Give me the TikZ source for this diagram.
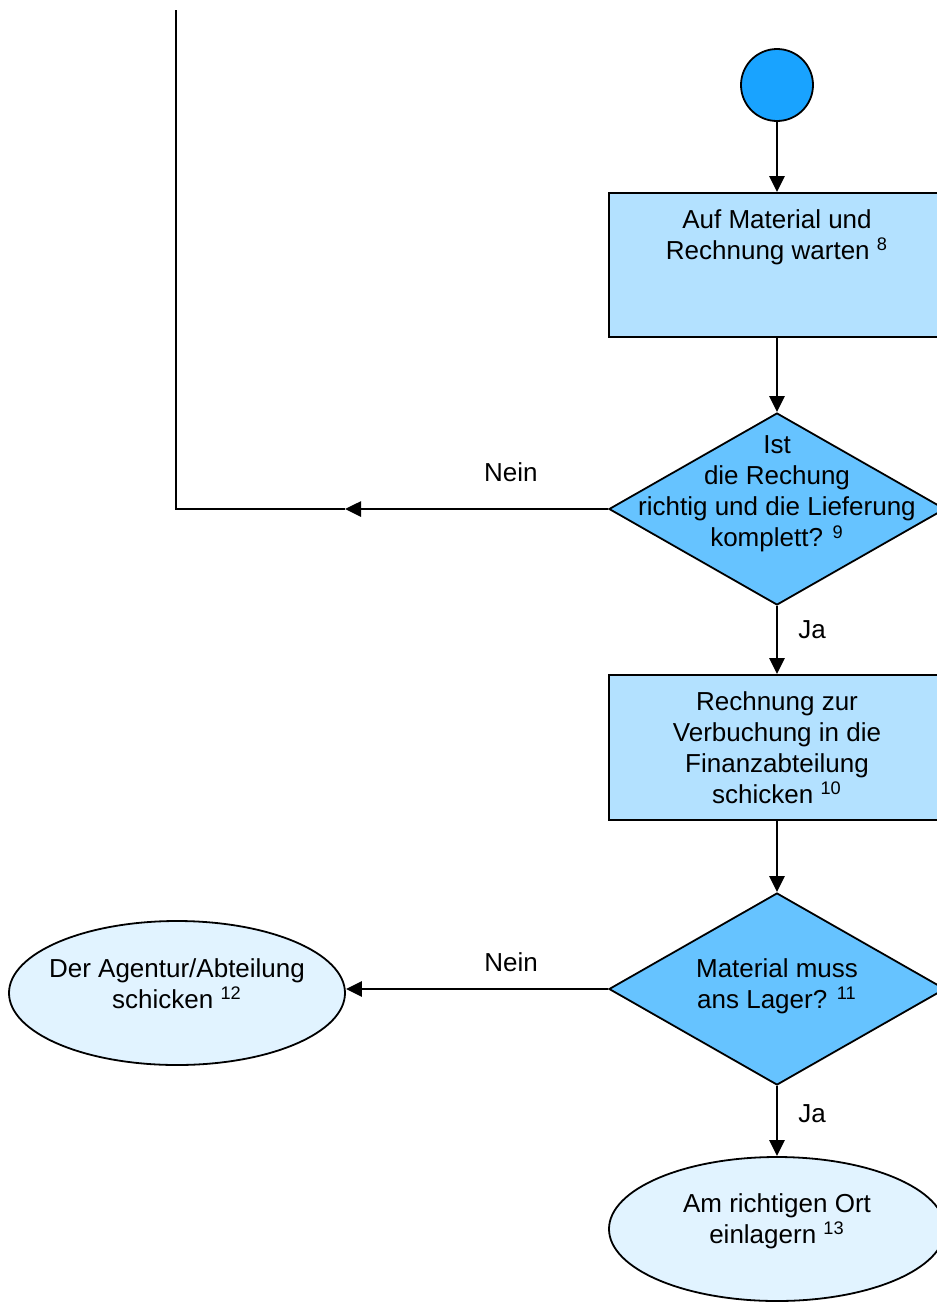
\documentclass[tikz,border=0pt]{standalone}
\usepackage{fontspec}
\setmainfont{Liberation Sans}
\usepackage{xcolor}
\usetikzlibrary{arrows.meta}
\usetikzlibrary{shapes.geometric}
\definecolor{startblue}{HTML}{19A3FF}
\definecolor{boxblue}{HTML}{B3E1FF}
\definecolor{decblue}{HTML}{66C3FF}
\definecolor{endblue}{HTML}{E1F3FF}

\begin{document}
\begin{tikzpicture}[x=0.5pt, y=-0.5pt,
    txt/.style={align=center, inner sep=0pt, font=\fontsize{13}{15.5}\selectfont},
    startdot/.style={circle, draw, line width=0.9pt, fill=startblue, minimum size=36pt, inner sep=0pt},
    procbox/.style={rectangle, draw, line width=0.9pt, fill=boxblue, minimum width=168pt, minimum height=72pt, inner sep=0pt},
    decbox/.style={diamond, draw, line width=0.9pt, fill=decblue, minimum width=168pt, minimum height=96pt, inner sep=0pt},
    endbox/.style={ellipse, draw, line width=0.9pt, fill=endblue, minimum width=168pt, minimum height=72pt, inner sep=0pt},
    flow/.style={line width=1.3pt, -{Triangle[length=8pt, width=7.5pt]}}]
        \useasboundingbox (0,0) rectangle (937,1302);
        \clip (0,0) rectangle (937,1302);
        % shapes
        \node [startdot] (start) at (777,85) {};
        \node [procbox, label={[txt, yshift=14pt]center:Auf Material und\\Rechnung warten \textsuperscript{8}}] (wait) at (777,265) {};
        \node [decbox, label={[txt, yshift=7.5pt]center:Ist\\die Rechung\\richtig und die Lieferung\\komplett? \textsuperscript{9}}] (check) at (777,509) {};
        \node [procbox, minimum height=72.5pt, label={[txt]center:Rechnung zur\\Verbuchung in die\\Finanzabteilung\\schicken \textsuperscript{10}}] (send) at (777,747.5) {};
        \node [decbox, label={[txt, yshift=1.5pt]center:Material muss\\ans Lager? \textsuperscript{11}}] (store) at (777,989) {};
        \node [endbox, label={[txt, yshift=4.75pt]center:Der Agentur/Abteilung\\schicken \textsuperscript{12}}] (agency) at (177,993) {};
        \node [endbox, label={[txt, yshift=4pt]center:Am richtigen Ort\\einlagern \textsuperscript{13}}] (shelf) at (777,1229) {};
        % back loop
        \coordinate (back) at (345,509);
        \coordinate (corner) at (176,509);
        \coordinate (up) at (176,10);
        % connectors
        \draw [flow] (start) -- (wait);
        \draw [flow] (wait) -- (check);
        \draw [flow] (check.west) -- (back) node [txt, pos=.37, above=13pt] {Nein};
        \draw [line width=1.3pt] (back) -- (corner) -- (up);
        \draw [flow] (check) -- (send) node [txt, pos=.35, right=10pt] {Ja};
        \draw [flow] (send) -- (store);
        \draw [flow] (store.west) -- (store.west -| agency.east) node [txt, pos=.37, above=8pt] {Nein};
        \draw [flow] (store) -- (shelf) node [txt, pos=.39, right=10pt] {Ja};
    \end{tikzpicture}
\end{document}
